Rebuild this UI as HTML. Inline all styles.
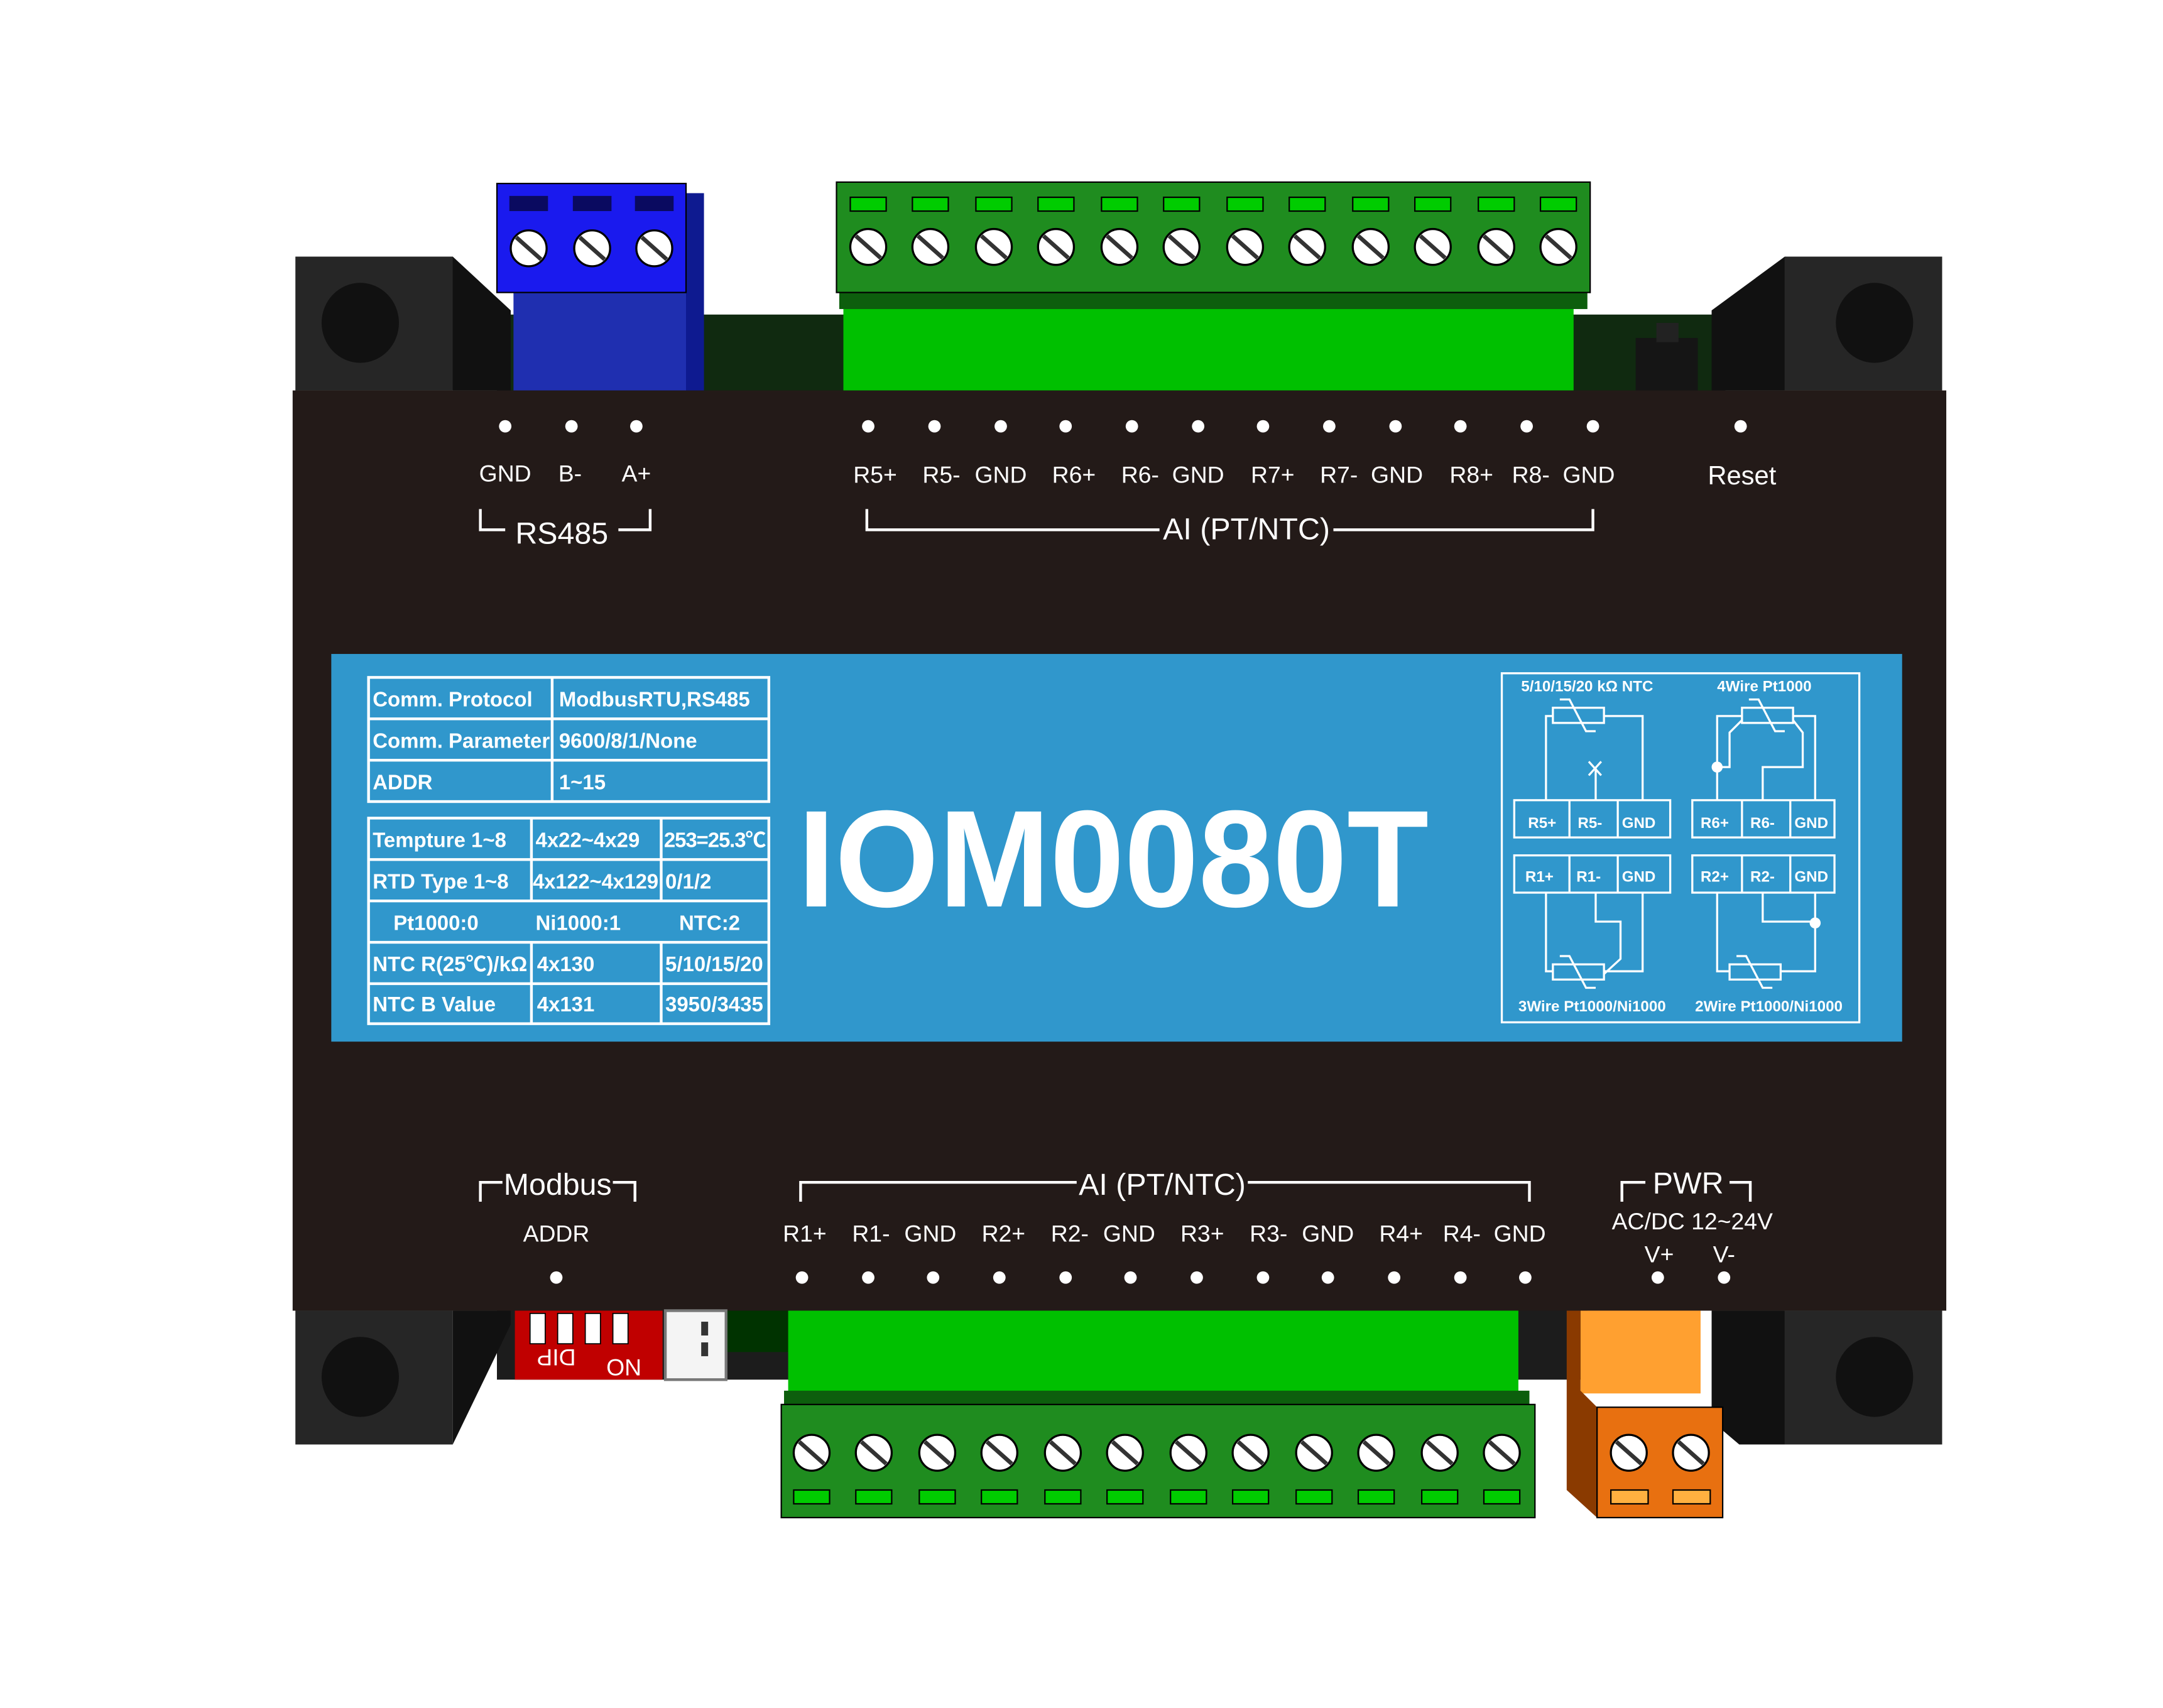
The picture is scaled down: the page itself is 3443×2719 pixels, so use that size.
<!DOCTYPE html>
<html><head><meta charset="utf-8"><style>
html,body{margin:0;padding:0;background:#fff;}
svg{display:block;}
text{font-family:"Liberation Sans","Noto Sans CJK SC",sans-serif;}
</style></head><body>
<svg width="3443" height="2719" viewBox="0 0 1567 1238" preserveAspectRatio="none" xmlns="http://www.w3.org/2000/svg">
<rect width="1567" height="1238" fill="#fff"/>
<!-- background PCB strips -->
<rect x="360" y="228" width="890" height="60" fill="#102a10"/>
<rect x="360" y="945" width="790" height="55" fill="#1c1c1c"/>
<rect x="520" y="945" width="60" height="35" fill="#003300"/>
<!-- corner blocks top -->
<polygon points="290,186 328,186 370,225 370,283 328,283" fill="#111"/>
<rect x="214" y="186" width="114" height="97" fill="#262626"/>
<ellipse cx="261" cy="234" rx="28" ry="29" fill="#111"/>
<polygon points="1293,186 1240,225 1240,283 1293,283" fill="#111"/>
<rect x="1293" y="186" width="114" height="97" fill="#262626"/>
<ellipse cx="1358" cy="234" rx="28" ry="29" fill="#111"/>
<!-- corner blocks bottom -->
<polygon points="328,950 370,950 370,960 328,1047" fill="#111"/>
<rect x="214" y="950" width="114" height="97" fill="#262626"/>
<ellipse cx="261" cy="998" rx="28" ry="29" fill="#111"/>
<polygon points="1240,950 1293,950 1293,1047 1260,1047 1240,1030" fill="#111"/>
<rect x="1293" y="950" width="114" height="97" fill="#262626"/>
<ellipse cx="1358" cy="998" rx="28" ry="29" fill="#111"/>
<!-- blue connector -->
<rect x="372" y="212" width="133" height="71" fill="#1f2fb0"/>
<rect x="497" y="140" width="13" height="143" fill="#0e1a90"/>
<rect x="360" y="133" width="137" height="79" fill="#1a1aee" stroke="#000" stroke-width="1"/>
<g fill="#0a0a60">
<rect x="369" y="142" width="28" height="11"/><rect x="415" y="142" width="28" height="11"/><rect x="460" y="142" width="28" height="11"/></g>
<g stroke="#000" stroke-width="1.5" fill="#fff">
<circle cx="383" cy="180" r="13"/><circle cx="429" cy="180" r="13"/><circle cx="474" cy="180" r="13"/></g>
<g stroke="#333" stroke-width="3"><line x1="374" y1="172" x2="392" y2="188"/><line x1="420" y1="172" x2="438" y2="188"/><line x1="465" y1="172" x2="483" y2="188"/></g>
<!-- top green connector -->
<rect x="611" y="222" width="529" height="61" fill="#00c000"/>
<rect x="608" y="210" width="542" height="14" fill="#0d5e0d"/>
<rect x="606" y="132" width="546" height="80" fill="#1f8c1f" stroke="#000" stroke-width="1"/>
<!-- reset -->
<rect x="1185" y="245" width="45" height="38" fill="#151515"/>
<rect x="1200" y="234" width="16" height="14" fill="#222"/>
<!-- main body -->
<rect x="212" y="283" width="1198" height="667" fill="#231a18"/>
<!-- bottom green connector -->
<rect x="571" y="950" width="529" height="60" fill="#00c000"/>
<rect x="568" y="1008" width="540" height="12" fill="#0d5e0d"/>
<rect x="566" y="1018" width="546" height="82" fill="#1f8c1f" stroke="#000" stroke-width="1"/>
<!-- orange -->
<rect x="1145" y="950" width="87" height="60" fill="#ffa030"/>
<polygon points="1135,950 1145,950 1145,1008 1157,1020 1157,1100 1135,1080" fill="#8a3a00"/>
<rect x="1157" y="1020" width="91" height="80" fill="#e87010" stroke="#000" stroke-width="1"/>
<g stroke="#000" stroke-width="1.5" fill="#fff"><circle cx="1180" cy="1053" r="13"/><circle cx="1225" cy="1053" r="13"/></g>
<g stroke="#333" stroke-width="3"><line x1="1171" y1="1045" x2="1189" y2="1061"/><line x1="1216" y1="1045" x2="1234" y2="1061"/></g>
<g fill="#ffb040" stroke="#000"><rect x="1167" y="1080" width="27" height="10"/><rect x="1212" y="1080" width="27" height="10"/></g>
<!-- DIP -->
<rect x="373" y="950" width="107" height="50" fill="#c00000"/>
<g fill="#fff" stroke="#000" stroke-width="0.8"><rect x="384" y="952" width="11" height="22"/><rect x="404" y="952" width="11" height="22"/><rect x="424" y="952" width="11" height="22"/><rect x="444" y="952" width="11" height="22"/></g>
<text x="403" y="990" font-size="17" fill="#fff" text-anchor="middle" transform="rotate(180 403 984)">DIP</text>
<text x="452" y="997" font-size="17" fill="#fff" text-anchor="middle">ON</text>
<rect x="482" y="950" width="44" height="50" fill="#f4f4f4" stroke="#777" stroke-width="2"/>
<g fill="#333"><rect x="508" y="958" width="5" height="10"/><rect x="508" y="973" width="5" height="10"/></g>
<!-- white dots -->
<g fill="#fff">
<circle cx="366" cy="309" r="4.5"/><circle cx="414" cy="309" r="4.5"/><circle cx="461" cy="309" r="4.5"/>
<circle cx="1261" cy="309" r="4.5"/>
<circle cx="403" cy="926" r="4.5"/><circle cx="1201" cy="926" r="4.5"/><circle cx="1249" cy="926" r="4.5"/>
</g>
<g fill="#fff" font-size="17">
<text x="366" y="349" text-anchor="middle">GND</text><text x="413" y="349" text-anchor="middle">B-</text><text x="461" y="349" text-anchor="middle">A+</text>
<text x="407" y="394" font-size="22" text-anchor="middle">RS485</text>
<text x="1262" y="351" font-size="19" text-anchor="middle">Reset</text>
<text x="903" y="391" font-size="22" text-anchor="middle">AI (PT/NTC)</text>
<text x="842" y="866" font-size="22" text-anchor="middle">AI (PT/NTC)</text>
<text x="404" y="866" font-size="22" text-anchor="middle">Modbus</text>
<text x="403" y="900" text-anchor="middle">ADDR</text>
<text x="1223" y="865" font-size="22" text-anchor="middle">PWR</text>
<text x="1226" y="891" text-anchor="middle">AC/DC 12~24V</text>
<text x="1202" y="915" text-anchor="middle">V+</text><text x="1249" y="915" text-anchor="middle">V-</text>
</g>
<g stroke="#fff" stroke-width="2" fill="none">
<polyline points="348,369 348,384 366,384"/><polyline points="448,384 471,384 471,369"/>
<polyline points="628,369 628,384 840,384"/><polyline points="966,384 1154,384 1154,369"/>
<polyline points="348,871 348,857 364,857"/><polyline points="444,857 460,857 460,871"/>
<polyline points="580,871 580,857 780,857"/><polyline points="904,857 1108,857 1108,871"/>
<polyline points="1175,871 1175,857 1192,857"/><polyline points="1253,857 1268,857 1268,871"/>
</g>
<!-- label panel -->
<rect x="240" y="474" width="1138" height="281" fill="#3097cc"/>
<g stroke="#fff" stroke-width="2" fill="none">
<rect x="267" y="491" width="290" height="90"/>
<line x1="267" y1="521" x2="557" y2="521"/><line x1="267" y1="551" x2="557" y2="551"/><line x1="400" y1="491" x2="400" y2="581"/>
<rect x="267" y="593" width="290" height="149"/>
<line x1="267" y1="623" x2="557" y2="623"/><line x1="267" y1="653" x2="557" y2="653"/><line x1="267" y1="683" x2="557" y2="683"/><line x1="267" y1="713" x2="557" y2="713"/>
<line x1="385" y1="593" x2="385" y2="653"/><line x1="479" y1="593" x2="479" y2="653"/>
<line x1="385" y1="683" x2="385" y2="742"/><line x1="479" y1="683" x2="479" y2="742"/>
</g>
<g fill="#fff" font-size="15" font-weight="bold">
<text x="270" y="512">Comm. Protocol</text><text x="405" y="512">ModbusRTU,RS485</text>
<text x="270" y="542">Comm. Parameter</text><text x="405" y="542">9600/8/1/None</text>
<text x="270" y="572">ADDR</text><text x="405" y="572">1~15</text>
<text x="270" y="614">Tempture 1~8</text><text x="388" y="614">4x22~4x29</text><text x="481" y="614" textLength="74">253=25.3℃</text>
<text x="270" y="644">RTD Type 1~8</text><text x="386" y="644" textLength="91">4x122~4x129</text><text x="482" y="644">0/1/2</text>
<text x="285" y="674">Pt1000:0</text><text x="388" y="674">Ni1000:1</text><text x="492" y="674">NTC:2</text>
<text x="270" y="704" textLength="112">NTC R(25℃)/kΩ</text><text x="389" y="704">4x130</text><text x="482" y="704">5/10/15/20</text>
<text x="270" y="733">NTC B Value</text><text x="389" y="733">4x131</text><text x="482" y="733">3950/3435</text>
</g>
<text x="578" y="657" font-size="100" font-weight="bold" fill="#fff" textLength="457" lengthAdjust="spacingAndGlyphs">IOM0080T</text>
<!-- wiring diagram -->
<g stroke="#fff" stroke-width="1.5" fill="none">
<rect x="1088" y="488" width="259" height="253"/>
<rect x="1097" y="580" width="113" height="27"/><line x1="1137" y1="580" x2="1137" y2="607"/><line x1="1172" y1="580" x2="1172" y2="607"/>
<rect x="1226" y="580" width="103" height="27"/><line x1="1262" y1="580" x2="1262" y2="607"/><line x1="1297" y1="580" x2="1297" y2="607"/>
<rect x="1097" y="620" width="113" height="27"/><line x1="1137" y1="620" x2="1137" y2="647"/><line x1="1172" y1="620" x2="1172" y2="647"/>
<rect x="1226" y="620" width="103" height="27"/><line x1="1262" y1="620" x2="1262" y2="647"/><line x1="1297" y1="620" x2="1297" y2="647"/>
<rect x="1125" y="513" width="37" height="11"/><polyline points="1120,580 1120,519 1125,519"/><polyline points="1162,519 1190,519 1190,580"/>
<line x1="1156" y1="580" x2="1156" y2="557"/><line x1="1151" y1="552" x2="1160" y2="562"/><line x1="1160" y1="552" x2="1151" y2="562"/>
<polyline points="1130,507 1137,507 1149,530 1156,530"/>
<rect x="1262" y="513" width="37" height="11"/><polyline points="1244,580 1244,519 1262,519"/><polyline points="1299,519 1315,519 1315,580"/>
<polyline points="1262,522 1253,531 1253,556 1244,556"/><polyline points="1299,522 1306,531 1306,556 1277,556 1277,580"/>
<polyline points="1267,507 1274,507 1286,530 1293,530"/>
<rect x="1125" y="699" width="37" height="11"/><polyline points="1120,647 1120,704 1125,704"/><polyline points="1162,704 1190,704 1190,647"/>
<polyline points="1156,647 1156,668 1174,668 1174,695 1162,706"/>
<polyline points="1130,693 1137,693 1149,716 1156,716"/>
<rect x="1253" y="699" width="37" height="11"/><polyline points="1244,647 1244,704 1253,704"/><polyline points="1290,704 1315,704 1315,647"/>
<polyline points="1277,647 1277,668 1315,668"/>
<polyline points="1258,693 1265,693 1277,716 1284,716"/>
</g>
<g fill="#fff"><circle cx="1244" cy="556" r="4"/><circle cx="1315" cy="669" r="4"/></g>
<g fill="#fff" font-size="11" font-weight="bold">
<text x="1102" y="501">5/10/15/20 kΩ NTC</text><text x="1244" y="501">4Wire Pt1000</text>
<text x="1100" y="733">3Wire Pt1000/Ni1000</text><text x="1228" y="733">2Wire Pt1000/Ni1000</text>
<text x="1107" y="600">R5+</text><text x="1143" y="600">R5-</text><text x="1175" y="600">GND</text>
<text x="1232" y="600">R6+</text><text x="1268" y="600">R6-</text><text x="1300" y="600">GND</text>
<text x="1105" y="639">R1+</text><text x="1142" y="639">R1-</text><text x="1175" y="639">GND</text>
<text x="1232" y="639">R2+</text><text x="1268" y="639">R2-</text><text x="1300" y="639">GND</text>
</g>
<!-- repeated terminals -->
<g>
<g fill="#00cc00" stroke="#000" stroke-width="1">
<rect x="616" y="143" width="26" height="10"/><rect x="661" y="143" width="26" height="10"/><rect x="707" y="143" width="26" height="10"/><rect x="752" y="143" width="26" height="10"/><rect x="798" y="143" width="26" height="10"/><rect x="843" y="143" width="26" height="10"/><rect x="889" y="143" width="26" height="10"/><rect x="934" y="143" width="26" height="10"/><rect x="980" y="143" width="26" height="10"/><rect x="1025" y="143" width="26" height="10"/><rect x="1071" y="143" width="26" height="10"/><rect x="1116" y="143" width="26" height="10"/>
<rect x="575" y="1080" width="26" height="10"/><rect x="620" y="1080" width="26" height="10"/><rect x="666" y="1080" width="26" height="10"/><rect x="711" y="1080" width="26" height="10"/><rect x="757" y="1080" width="26" height="10"/><rect x="802" y="1080" width="26" height="10"/><rect x="848" y="1080" width="26" height="10"/><rect x="893" y="1080" width="26" height="10"/><rect x="939" y="1080" width="26" height="10"/><rect x="984" y="1080" width="26" height="10"/><rect x="1030" y="1080" width="26" height="10"/><rect x="1075" y="1080" width="26" height="10"/>
</g>
<g fill="#fff" stroke="#000" stroke-width="1.5">
<circle cx="629" cy="179" r="13"/><circle cx="674" cy="179" r="13"/><circle cx="720" cy="179" r="13"/><circle cx="765" cy="179" r="13"/><circle cx="811" cy="179" r="13"/><circle cx="856" cy="179" r="13"/><circle cx="902" cy="179" r="13"/><circle cx="947" cy="179" r="13"/><circle cx="993" cy="179" r="13"/><circle cx="1038" cy="179" r="13"/><circle cx="1084" cy="179" r="13"/><circle cx="1129" cy="179" r="13"/>
<circle cx="588" cy="1053" r="13"/><circle cx="633" cy="1053" r="13"/><circle cx="679" cy="1053" r="13"/><circle cx="724" cy="1053" r="13"/><circle cx="770" cy="1053" r="13"/><circle cx="815" cy="1053" r="13"/><circle cx="861" cy="1053" r="13"/><circle cx="906" cy="1053" r="13"/><circle cx="952" cy="1053" r="13"/><circle cx="997" cy="1053" r="13"/><circle cx="1043" cy="1053" r="13"/><circle cx="1088" cy="1053" r="13"/>
</g>
<g stroke="#333" stroke-width="3">
<line x1="620" y1="171" x2="638" y2="187"/><line x1="665" y1="171" x2="683" y2="187"/><line x1="711" y1="171" x2="729" y2="187"/><line x1="756" y1="171" x2="774" y2="187"/><line x1="802" y1="171" x2="820" y2="187"/><line x1="847" y1="171" x2="865" y2="187"/><line x1="893" y1="171" x2="911" y2="187"/><line x1="938" y1="171" x2="956" y2="187"/><line x1="984" y1="171" x2="1002" y2="187"/><line x1="1029" y1="171" x2="1047" y2="187"/><line x1="1075" y1="171" x2="1093" y2="187"/><line x1="1120" y1="171" x2="1138" y2="187"/>
<line x1="579" y1="1045" x2="597" y2="1061"/><line x1="624" y1="1045" x2="642" y2="1061"/><line x1="670" y1="1045" x2="688" y2="1061"/><line x1="715" y1="1045" x2="733" y2="1061"/><line x1="761" y1="1045" x2="779" y2="1061"/><line x1="806" y1="1045" x2="824" y2="1061"/><line x1="852" y1="1045" x2="870" y2="1061"/><line x1="897" y1="1045" x2="915" y2="1061"/><line x1="943" y1="1045" x2="961" y2="1061"/><line x1="988" y1="1045" x2="1006" y2="1061"/><line x1="1034" y1="1045" x2="1052" y2="1061"/><line x1="1079" y1="1045" x2="1097" y2="1061"/>
</g>
<g fill="#fff">
<circle cx="629" cy="309" r="4.5"/><circle cx="677" cy="309" r="4.5"/><circle cx="725" cy="309" r="4.5"/><circle cx="772" cy="309" r="4.5"/><circle cx="820" cy="309" r="4.5"/><circle cx="868" cy="309" r="4.5"/><circle cx="915" cy="309" r="4.5"/><circle cx="963" cy="309" r="4.5"/><circle cx="1011" cy="309" r="4.5"/><circle cx="1058" cy="309" r="4.5"/><circle cx="1106" cy="309" r="4.5"/><circle cx="1154" cy="309" r="4.5"/>
<circle cx="581" cy="926" r="4.5"/><circle cx="629" cy="926" r="4.5"/><circle cx="676" cy="926" r="4.5"/><circle cx="724" cy="926" r="4.5"/><circle cx="772" cy="926" r="4.5"/><circle cx="819" cy="926" r="4.5"/><circle cx="867" cy="926" r="4.5"/><circle cx="915" cy="926" r="4.5"/><circle cx="962" cy="926" r="4.5"/><circle cx="1010" cy="926" r="4.5"/><circle cx="1058" cy="926" r="4.5"/><circle cx="1105" cy="926" r="4.5"/>
</g>
<g fill="#fff" font-size="17" text-anchor="middle">
<text x="634" y="350">R5+</text><text x="682" y="350">R5-</text><text x="725" y="350">GND</text><text x="778" y="350">R6+</text><text x="826" y="350">R6-</text><text x="868" y="350">GND</text><text x="922" y="350">R7+</text><text x="970" y="350">R7-</text><text x="1012" y="350">GND</text><text x="1066" y="350">R8+</text><text x="1109" y="350">R8-</text><text x="1151" y="350">GND</text>
<text x="583" y="900">R1+</text><text x="631" y="900">R1-</text><text x="674" y="900">GND</text><text x="727" y="900">R2+</text><text x="775" y="900">R2-</text><text x="818" y="900">GND</text><text x="871" y="900">R3+</text><text x="919" y="900">R3-</text><text x="962" y="900">GND</text><text x="1015" y="900">R4+</text><text x="1059" y="900">R4-</text><text x="1101" y="900">GND</text>
</g>
</g>
</svg>
</body></html>
